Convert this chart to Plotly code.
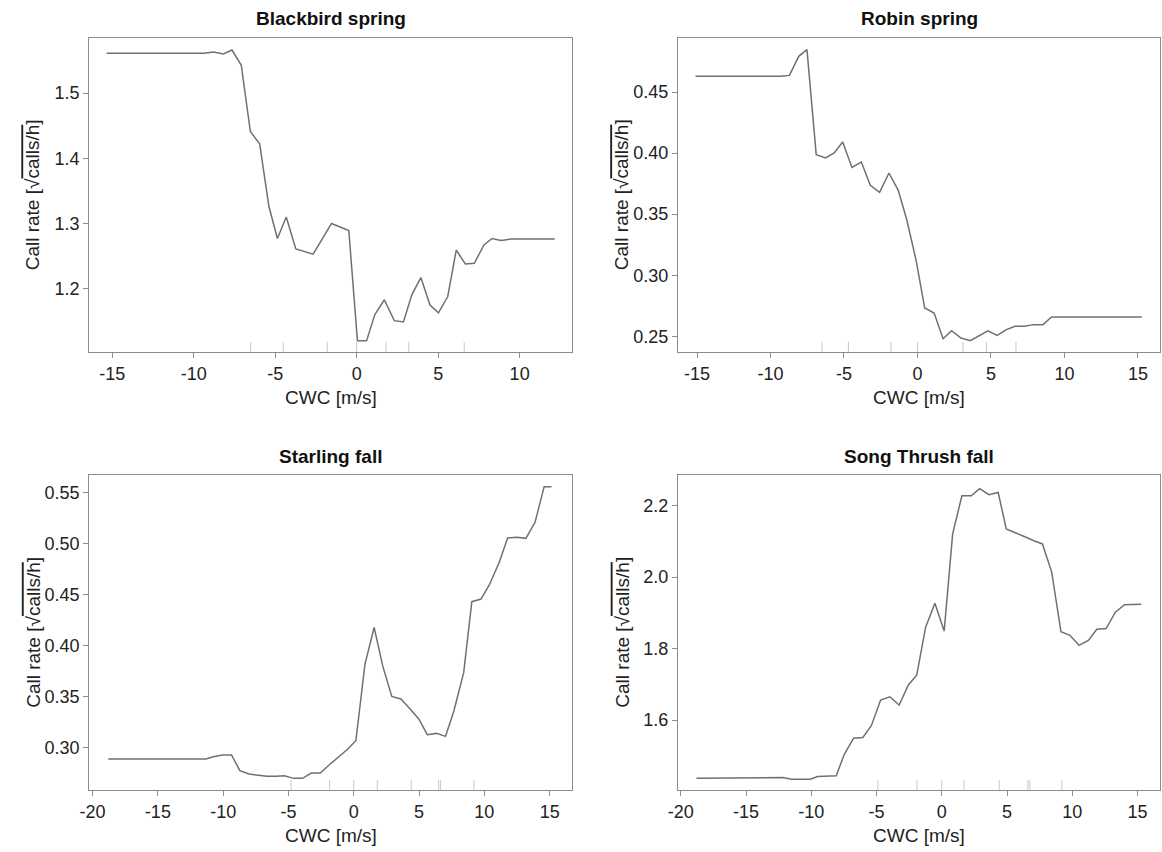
import plotly.graph_objects as go

# ---------------- data ----------------
titles = ["Blackbird spring", "Robin spring", "Starling fall", "Song Thrush fall"]

bb_x = [-15.34, -9.34, -8.78, -8.17, -7.65, -7.08, -6.52, -5.95, -5.38, -4.86, -4.32, -3.73,
        -2.67, -2.06, -1.54, -0.48, 0.05, 0.61, 1.11, 1.70, 2.31, 2.87, 3.39, 3.94, 4.50,
        5.02, 5.59, 6.11, 6.67, 7.22, 7.81, 8.30, 8.87, 9.43, 12.15]
bb_y = [1.561, 1.561, 1.563, 1.560, 1.566, 1.543, 1.441, 1.422, 1.326, 1.277, 1.310, 1.261,
        1.253, 1.279, 1.300, 1.289, 1.120, 1.120, 1.160, 1.183, 1.151, 1.149, 1.191, 1.217,
        1.175, 1.163, 1.188, 1.259, 1.238, 1.239, 1.267, 1.277, 1.274, 1.276, 1.276]

rb_x = [-15.10, -9.34, -8.71, -8.08, -7.52, -6.89, -6.25, -5.67, -5.09, -4.46, -3.82, -3.21,
        -2.58, -1.94, -1.31, -0.72, -0.09, 0.49, 1.13, 1.74, 2.32, 2.96, 3.59, 4.23, 4.79,
        5.42, 6.05, 6.64, 7.27, 7.90, 8.54, 9.12, 15.26]
rb_y = [0.4628, 0.4628, 0.4636, 0.4792, 0.4847, 0.3987, 0.3960, 0.4001, 0.4091, 0.3883,
        0.3927, 0.3736, 0.3679, 0.3837, 0.3695, 0.3450, 0.3119, 0.2732, 0.2691, 0.2481,
        0.2546, 0.2486, 0.2465, 0.2505, 0.2546, 0.2508, 0.2555, 0.2582, 0.2582, 0.2596,
        0.2596, 0.2658, 0.2658]

st_x = [-18.80, -11.32, -10.76, -10.06, -9.36, -8.72, -8.02, -7.32, -6.65, -5.95, -5.31,
        -4.61, -3.91, -3.26, -2.56, -1.89, -1.19, -0.54, 0.16, 0.86, 1.56, 2.21, 2.91, 3.61,
        4.28, 4.98, 5.63, 6.33, 7.03, 7.67, 8.42, 9.04, 9.74, 10.38, 11.14, 11.78, 12.48,
        13.18, 13.88, 14.58, 15.14]
st_y = [0.2886, 0.2886, 0.2908, 0.2925, 0.2925, 0.2771, 0.2739, 0.2729, 0.2716, 0.2716,
        0.2722, 0.2696, 0.2696, 0.2748, 0.2748, 0.2827, 0.2908, 0.2974, 0.3065, 0.3817,
        0.4176, 0.3801, 0.3500, 0.3474, 0.3382, 0.3278, 0.3124, 0.3137, 0.3108, 0.3359,
        0.3735, 0.4428, 0.4454, 0.4592, 0.4814, 0.5052, 0.5059, 0.5049, 0.5206, 0.5556,
        0.5556]

sth_x = [-18.80, -12.63, -12.20, -11.50, -10.08, -9.51, -8.80, -8.09, -7.47, -6.76, -6.05,
         -5.40, -4.69, -3.98, -3.27, -2.56, -1.92, -1.24, -0.53, 0.18, 0.83, 1.54, 2.25,
         2.90, 3.61, 4.32, 4.94, 5.65, 6.36, 7.06, 7.71, 8.42, 9.13, 9.81, 10.52, 11.23,
         11.88, 12.59, 13.30, 14.00, 15.28]
sth_y = [1.437, 1.437, 1.439, 1.434, 1.434, 1.442, 1.442, 1.444, 1.504, 1.549, 1.551,
         1.584, 1.656, 1.665, 1.642, 1.698, 1.726, 1.860, 1.927, 1.849, 2.121, 2.228, 2.228,
         2.248, 2.231, 2.237, 2.135, 2.123, 2.113, 2.102, 2.093, 2.014, 1.847, 1.837, 1.809,
         1.823, 1.854, 1.856, 1.902, 1.923, 1.924]

# rug marks (CWC quantiles)
bb_rug = [-6.5, -4.5, -1.8, 0.0, 1.8, 3.2, 6.6]
rb_rug = [-6.5, -4.7, -1.8, 0.0, 3.1, 4.7, 6.7]
st_rug = [-4.8, -1.85, 0.0, 1.8, 4.4, 6.5, 6.65, 9.2]
sth_rug = [-4.9, -1.9, 0.0, 1.7, 4.4, 6.6, 6.75, 9.2]

# tick values / labels
bb_yticks = [1.2, 1.3, 1.4, 1.5]
bb_ylabels = ["1.2", "1.3", "1.4", "1.5"]
rb_yticks = [0.25, 0.30, 0.35, 0.40, 0.45]
rb_ylabels = ["0.25", "0.30", "0.35", "0.40", "0.45"]
st_yticks = [0.30, 0.35, 0.40, 0.45, 0.50, 0.55]
st_ylabels = ["0.30", "0.35", "0.40", "0.45", "0.50", "0.55"]
sth_yticks = [1.6, 1.8, 2.0, 2.2]
sth_ylabels = ["1.6", "1.8", "2.0", "2.2"]
spring_xticks = [-15, -10, -5, 0, 5, 10, 15]
fall_xticks = [-20, -15, -10, -5, 0, 5, 10, 15]

xlab = "CWC [m/s]"
ylab = "Call rate [√<span style='text-decoration:overline'>calls/h</span>]"

# ---------------- layout ----------------
W, H = 1162, 852
panels = [
    dict(x=bb_x, y=bb_y, rug=bb_rug, yt=bb_yticks, yl=bb_ylabels, xt=spring_xticks,
         box=(80, 567, 38, 352), xr=[-16.40, 13.22], yr=[1.1029, 1.5844]),
    dict(x=rb_x, y=rb_y, rug=rb_rug, yt=rb_yticks, yl=rb_ylabels, xt=spring_xticks,
         box=(674, 1160, 38, 352), xr=[-16.28, 16.50], yr=[0.2372, 0.4942]),
    dict(x=st_x, y=st_y, rug=st_rug, yt=st_yticks, yl=st_ylabels, xt=fall_xticks,
         box=(80, 567, 475, 790), xr=[-20.25, 16.72], yr=[0.2582, 0.5670]),
    dict(x=sth_x, y=sth_y, rug=sth_rug, yt=sth_yticks, yl=sth_ylabels, xt=fall_xticks,
         box=(674, 1160, 475, 790), xr=[-20.20, 16.72], yr=[1.4040, 2.2860]),
]

FONT = "Liberation Sans, Arial, sans-serif"
AXCOL = "#8c8c8c"
TXT = "#222222"

fig = go.Figure()
layout = dict(width=W, height=H, margin=dict(l=0, r=0, t=0, b=0),
              paper_bgcolor="white", plot_bgcolor="white", showlegend=False,
              font=dict(family=FONT, color=TXT))
annotations = []
shapes = []

for i, p in enumerate(panels, start=1):
    sfx = "" if i == 1 else str(i)
    xa, ya = "x" + sfx, "y" + sfx
    l, r, t, b = p["box"]
    fig.add_trace(go.Scatter(x=p["x"], y=p["y"], mode="lines", xaxis=xa, yaxis=ya,
                             line=dict(color="#707070", width=1.5), hoverinfo="skip"))
    common = dict(showline=True, mirror=True, linecolor=AXCOL, linewidth=1.2,
                  showgrid=False, zeroline=False, ticks="outside", ticklen=5,
                  tickcolor=AXCOL, tickwidth=1, tickfont=dict(size=18, color=TXT, family=FONT))
    layout["xaxis" + sfx] = dict(common, domain=[l / W, r / W], range=p["xr"],
                                 tickvals=p["xt"], ticktext=[str(v) for v in p["xt"]],
                                 anchor=ya, fixedrange=True)
    layout["yaxis" + sfx] = dict(common, domain=[(H - b) / H, (H - t) / H], range=p["yr"],
                                 tickvals=p["yt"], ticktext=p["yl"], anchor=xa,
                                 fixedrange=True)
    # rug marks
    for v in p["rug"]:
        shapes.append(dict(type="line", xref=xa, yref=ya + " domain", x0=v, x1=v,
                           y0=0, y1=0.032, line=dict(color="#c8c8c8", width=1)))
    # panel title
    annotations.append(dict(text="<b>" + titles[i - 1] + "</b>", xref=xa + " domain",
                            yref=ya + " domain", x=0.5, y=1, yshift=19, xanchor="center",
                            yanchor="middle", showarrow=False,
                            font=dict(size=19, color="#111111", family=FONT)))
    # x title
    annotations.append(dict(text=xlab, xref=xa + " domain", yref=ya + " domain", x=0.5, y=0,
                            yshift=-45, xanchor="center", yanchor="middle", showarrow=False,
                            font=dict(size=19, color=TXT, family=FONT)))
    # y title
    annotations.append(dict(text=ylab, xref=xa + " domain", yref=ya + " domain", x=0, y=0.5,
                            xshift=-56, xanchor="center", yanchor="middle", textangle=-90,
                            showarrow=False, font=dict(size=19, color=TXT, family=FONT)))

layout["annotations"] = annotations
layout["shapes"] = shapes
fig.update_layout(**layout)
fig.write_html("out.html", config={"displayModeBar": False, "staticPlot": True},
               post_script="document.body.style.margin='0';document.body.style.overflow='hidden';")
